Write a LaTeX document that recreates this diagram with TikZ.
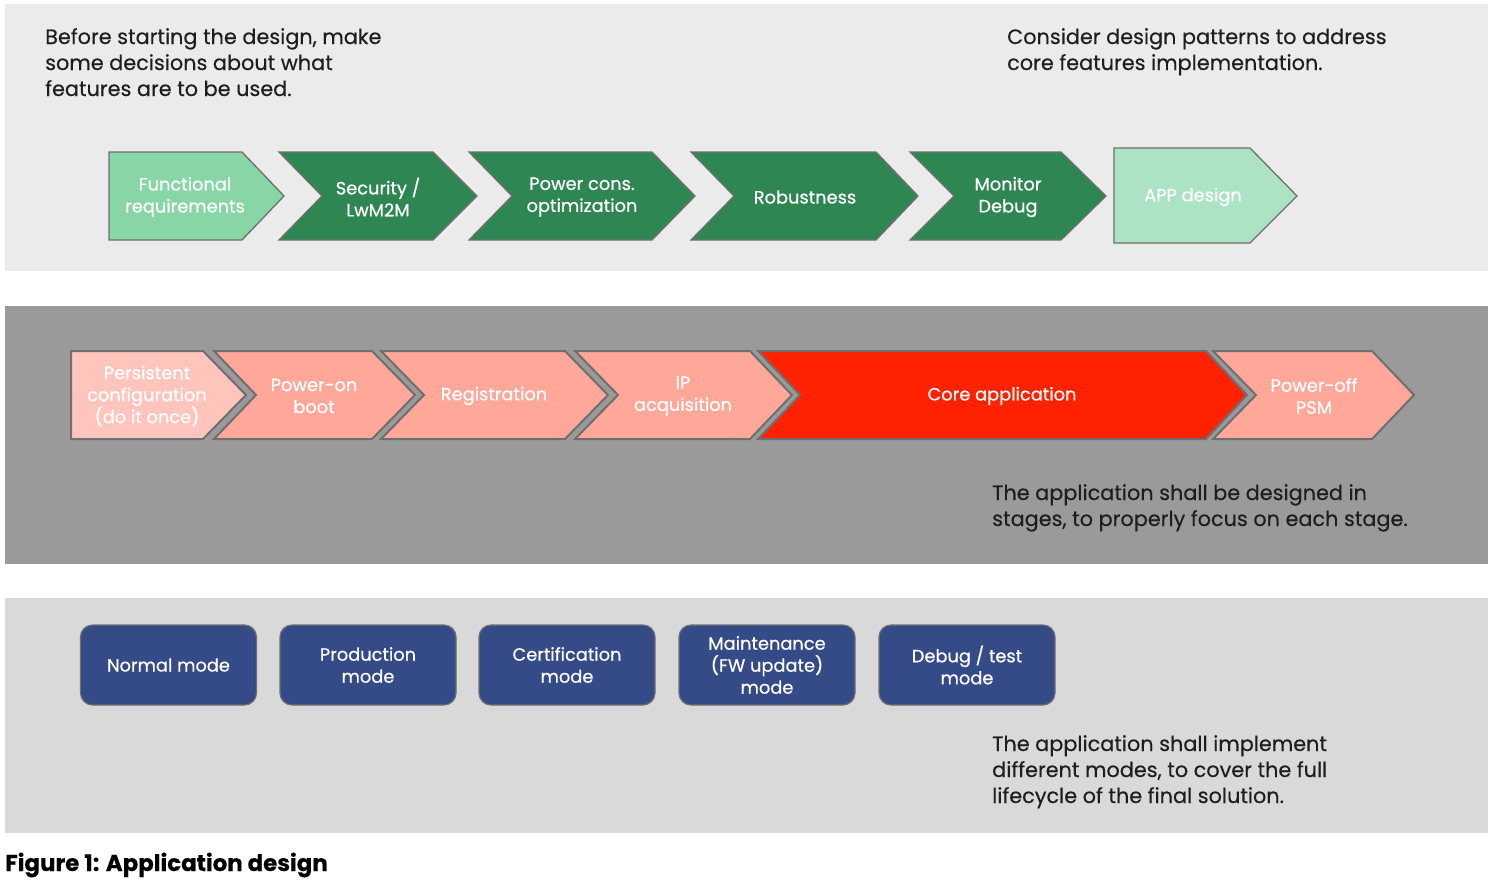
\documentclass[tikz,border=0pt]{standalone}
\usepackage{fontspec}
\setmainfont{Poppins}[FakeBold=0.3]
\newfontfamily\lblfont{Poppins}[FakeBold=0.6]
\definecolor{txt}{HTML}{1E1E1E}
\definecolor{p1}{HTML}{EBEBEB}
\definecolor{p2}{HTML}{9A9A9A}
\definecolor{p3}{HTML}{D9D9D9}
\definecolor{lgreen}{HTML}{88D5A5}
\definecolor{dgreen}{HTML}{2E8653}
\definecolor{pgreen}{HTML}{ACE3C5}
\definecolor{lpink}{HTML}{FFC5BC}
\definecolor{salmon}{HTML}{FFA899}
\definecolor{corered}{HTML}{FF2200}
\definecolor{navy}{HTML}{344B87}
\definecolor{edge}{HTML}{6F6F6F}
\tikzset{
  panel/.style={draw=none},
  chevtop/.style={draw=edge,line width=1.3pt,line join=miter},
  chevmid/.style={draw=edge,line width=2pt,line join=miter},
  lbl/.style={text=white,align=center,font=\lblfont\fontsize{17.8}{22}\selectfont,inner sep=0pt},
  note/.style={text=txt,align=left,anchor=base west,font=\fontsize{20.8}{26}\selectfont,inner sep=0pt},
  modebox/.style={draw=edge,line width=1.2pt,fill=navy,rounded corners=12pt,minimum width=176pt,minimum height=80pt,text=white,align=center,font=\lblfont\fontsize{17.8}{22}\selectfont,inner sep=0pt},
}
\begin{document}
\begin{tikzpicture}[x=1pt,y=-1pt]
\useasboundingbox (0,0) rectangle (1496,892);
% panels
\fill[p1] (5,4) rectangle (1488,271);
\fill[p2] (5,306) rectangle (1488,564);
\fill[p3] (5,598) rectangle (1488,833);
% top notes (anchored at the last line's baseline)
\node[note] (n1) at (45,96) {Before starting the design, make\\some decisions about what\\features are to be used.};
\node[note] (n2) at (1007,70) {Consider design patterns to address\\core features implementation.};
% top chevrons
\path[chevtop,fill=lgreen] (109,152) -- (242,152) -- (284,196) -- (242,240) -- (109,240) -- cycle;
\path[chevtop,fill=dgreen] (279,152) -- (433,152) -- (477,196) -- (433,240) -- (279,240) -- (322,196) -- cycle;
\path[chevtop,fill=dgreen] (469,152) -- (652,152) -- (695,196) -- (652,240) -- (469,240) -- (512,196) -- cycle;
\path[chevtop,fill=dgreen] (691,152) -- (876,152) -- (918,196) -- (876,240) -- (691,240) -- (734,196) -- cycle;
\path[chevtop,fill=dgreen] (910,152) -- (1061,152) -- (1106,196) -- (1061,240) -- (910,240) -- (954,196) -- cycle;
\path[chevtop,fill=pgreen] (1114,148) -- (1250,148) -- (1297,196) -- (1250,243) -- (1114,243) -- cycle;
\node[lbl] (t1) at (185,197) {Functional\\requirements};
\node[lbl] (t2) at (378,197) {Security /\\LwM2M};
\node[lbl] (t3) at (582,197) {Power cons.\\optimization};
\node[lbl] (t4) at (805,197) {Robustness};
\node[lbl] (t5) at (1008,197) {Monitor\\Debug};
\node[lbl] (t6) at (1193,197) {APP design};
% middle chevrons
\path[chevmid,fill=lpink] (71,351) -- (203,351) -- (246,395) -- (203,439) -- (71,439) -- cycle;
\path[chevmid,fill=salmon] (214,351) -- (372,351) -- (415,395) -- (372,439) -- (214,439) -- (256,395) -- cycle;
\path[chevmid,fill=salmon] (381,351) -- (565,351) -- (608,395) -- (565,439) -- (381,439) -- (424,395) -- cycle;
\path[chevmid,fill=salmon] (575,351) -- (750,351) -- (792,395) -- (750,439) -- (575,439) -- (618,395) -- cycle;
\path[chevmid,fill=salmon] (1213,351) -- (1372,351) -- (1414,395) -- (1372,439) -- (1213,439) -- (1256,395) -- cycle;
\path[chevmid,fill=corered] (758,351) -- (1206,351) -- (1247,395) -- (1206,439) -- (758,439) -- (800,395) -- cycle;
\node[lbl] (m1) at (147,396) {Persistent\\configuration\\(do it once)};
\node[lbl] (m2) at (314,396) {Power-on\\boot};
\node[lbl] (m3) at (494,396) {Registration};
\node[lbl] (m4) at (683,396) {IP\\acquisition};
\node[lbl] (m5) at (1002,396) {Core application};
\node[lbl] (m6) at (1314,396) {Power-off\\PSM};
\node[note] (n3) at (992,526) {The application shall be designed in\\stages, to properly focus on each stage.};
% bottom modes
\node[modebox] (b1) at (168.5,665) {Normal mode};
\node[modebox] (b2) at (368,665) {Production\\mode};
\node[modebox] (b3) at (567,665) {Certification\\mode};
\node[modebox] (b4) at (767,665) {Maintenance\\(FW update)\\mode};
\node[modebox] (b5) at (967,665) {Debug / test\\mode};
\node[note] (n4) at (992,803) {The application shall implement\\different modes, to cover the full\\lifecycle of the final solution.};
% caption
\node[note,font=\bfseries\fontsize{22.9}{26}\selectfont,text=black] (cap) at (5,871) {Figure 1: Application design};
\end{tikzpicture}
\end{document}
